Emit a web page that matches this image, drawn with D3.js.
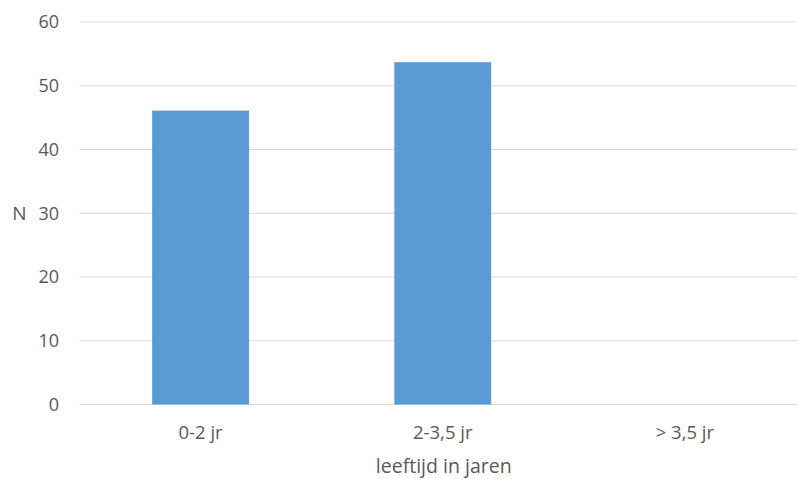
<!DOCTYPE html>
<html>
<head>
<meta charset="utf-8">
<script src="https://cdn.jsdelivr.net/npm/d3@7"></script>
<style>
  html, body { margin: 0; padding: 0; background: #fff; }
  svg { display: block; }
  text { font-family: "Open Sans", "Noto Sans", sans-serif; fill: #595959; }
</style>
</head>
<body>
<svg id="chart" width="797" height="479"></svg>
<script>
// Age groups and number of children per group
const categories = ["0-2 jr", "2-3,5 jr", "> 3,5 jr"];
const counts = [46.1, 53.7, 0];
const yTicks = [0, 10, 20, 30, 40, 50, 60];

const svg = d3.select("#chart");
const plotLeft = 79.5, plotRight = 806, plotTop = 22, plotBottom = 404.5;

const x = d3.scaleBand().domain(categories).range([plotLeft, plotRight]).paddingInner(0.6).paddingOuter(0.3);
const y = d3.scaleLinear().domain([0, 60]).range([plotBottom, plotTop]);

// Horizontal gridlines
svg.append("g")
  .selectAll("line")
  .data(yTicks)
  .join("line")
  .attr("x1", plotLeft).attr("x2", plotRight)
  .attr("y1", d => y(d)).attr("y2", d => y(d))
  .attr("stroke", "#d9d9d9").attr("stroke-width", 1.2);

// Y tick labels
svg.append("g")
  .selectAll("text")
  .data(yTicks)
  .join("text")
  .attr("x", 59).attr("y", d => y(d))
  .attr("dy", "0.36em")
  .attr("text-anchor", "end")
  .attr("font-size", 18)
  .text(d => d);

// Bars
svg.append("g")
  .selectAll("rect")
  .data(categories.map((c, i) => ({ c, v: counts[i] })))
  .join("rect")
  .attr("x", d => x(d.c))
  .attr("width", x.bandwidth())
  .attr("y", d => y(d.v))
  .attr("height", d => y(0) - y(d.v))
  .attr("fill", "#5b9bd5");

// Category labels
svg.append("g")
  .selectAll("text")
  .data(categories)
  .join("text")
  .attr("x", d => x(d) + x.bandwidth() / 2)
  .attr("y", 439)
  .attr("text-anchor", "middle")
  .attr("font-size", 18.5)
  .text(d => d);

// Axis titles
svg.append("text")
  .attr("x", (plotLeft + plotRight) / 2 + 1).attr("y", 473)
  .attr("text-anchor", "middle")
  .attr("font-size", 19.5)
  .text("leeftijd in jaren");

svg.append("text")
  .attr("x", 19.5).attr("y", y(30))
  .attr("dy", "0.36em")
  .attr("text-anchor", "middle")
  .attr("font-size", 19)
  .text("N");
</script>
</body>
</html>
